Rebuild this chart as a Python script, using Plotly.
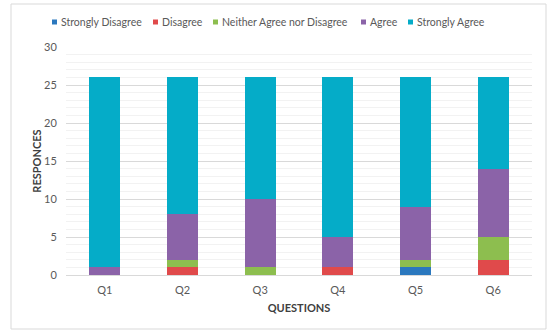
import plotly.graph_objects as go

questions = ["Q1", "Q2", "Q3", "Q4", "Q5", "Q6"]
strongly_disagree = [0, 0, 0, 0, 1, 0]
disagree = [0, 1, 0, 1, 0, 2]
neither = [0, 1, 1, 0, 1, 3]
agree = [1, 6, 9, 4, 7, 9]
strongly_agree = [25, 18, 16, 21, 17, 12]
y_ticks = [0, 5, 10, 15, 20, 25, 30]

series_names = ["Strongly Disagree", "Disagree", "Neither Agree nor Disagree", "Agree", "Strongly Agree"]
series_values = [strongly_disagree, disagree, neither, agree, strongly_agree]
series_colors = ["#2B78BE", "#E04A4B", "#8DBE4F", "#8B63A8", "#05ACC8"]

FONT = "Lato, Open Sans, sans-serif"

fig = go.Figure()
for name, vals, col in zip(series_names, series_values, series_colors):
    fig.add_trace(go.Bar(name=name, x=questions, y=vals, marker=dict(color=col, line=dict(width=0))))

W, H = 550, 336
ml, mr, mt, mb = 66, 18, 47, 61
pw, ph = W - ml - mr, H - mt - mb

def px_x(p):
    return (p - ml) / pw

def px_y(p):
    return (H - mb - p) / ph

# manual legend (symbol left pixel positions)
legend_sym_x = [52, 153, 213, 361, 408]
legend_y = 22
shapes = [dict(type="rect", xref="paper", yref="paper",
               x0=px_x(11), x1=px_x(546), y0=px_y(329), y1=px_y(4),
               line=dict(color="#D9D9D9", width=1), fillcolor="rgba(0,0,0,0)", layer="below")]
annotations = []
for name, col, sx in zip(series_names, series_colors, legend_sym_x):
    shapes.append(dict(type="rect", xref="paper", yref="paper",
                       x0=px_x(sx), x1=px_x(sx + 5), y0=px_y(legend_y + 2.5), y1=px_y(legend_y - 2.5),
                       line=dict(width=0), fillcolor=col))
    annotations.append(dict(text=name, xref="paper", yref="paper", x=px_x(sx + 7), y=px_y(legend_y),
                            xanchor="left", yanchor="middle", showarrow=False,
                            font=dict(family=FONT, size=10.5, color="#595959")))

fig.update_layout(
    width=W, height=H,
    margin=dict(l=ml, r=mr, t=mt, b=mb, autoexpand=False),
    barmode="stack",
    bargap=0.6,
    paper_bgcolor="white",
    plot_bgcolor="white",
    font=dict(family=FONT, color="#595959", size=11),
    showlegend=False,
    xaxis=dict(showline=True, linecolor="#D9D9D9", linewidth=1,
               ticks="outside", ticklen=5, tickcolor="rgba(0,0,0,0)",
               tickfont=dict(size=11, color="#595959"),
               title=dict(text="<b>QUESTIONS</b>", font=dict(size=11, color="#404040"), standoff=9)),
    yaxis=dict(range=[0, 30], tickvals=y_ticks, showgrid=True, gridcolor="#D9D9D9", gridwidth=1,
               zeroline=False, ticks="outside", ticklen=6, tickcolor="rgba(0,0,0,0)",
               tickfont=dict(size=11, color="#595959"),
               minor=dict(dtick=1, showgrid=True, gridcolor="#F2F2F2", gridwidth=1, ticks=""),
               title=dict(text="<b>RESPONCES</b>", font=dict(size=11, color="#404040"), standoff=0)),
    shapes=shapes,
    annotations=annotations,
)

fig.write_html("out.html", config={"displayModeBar": False},
               post_script="document.body.style.margin='0';")
